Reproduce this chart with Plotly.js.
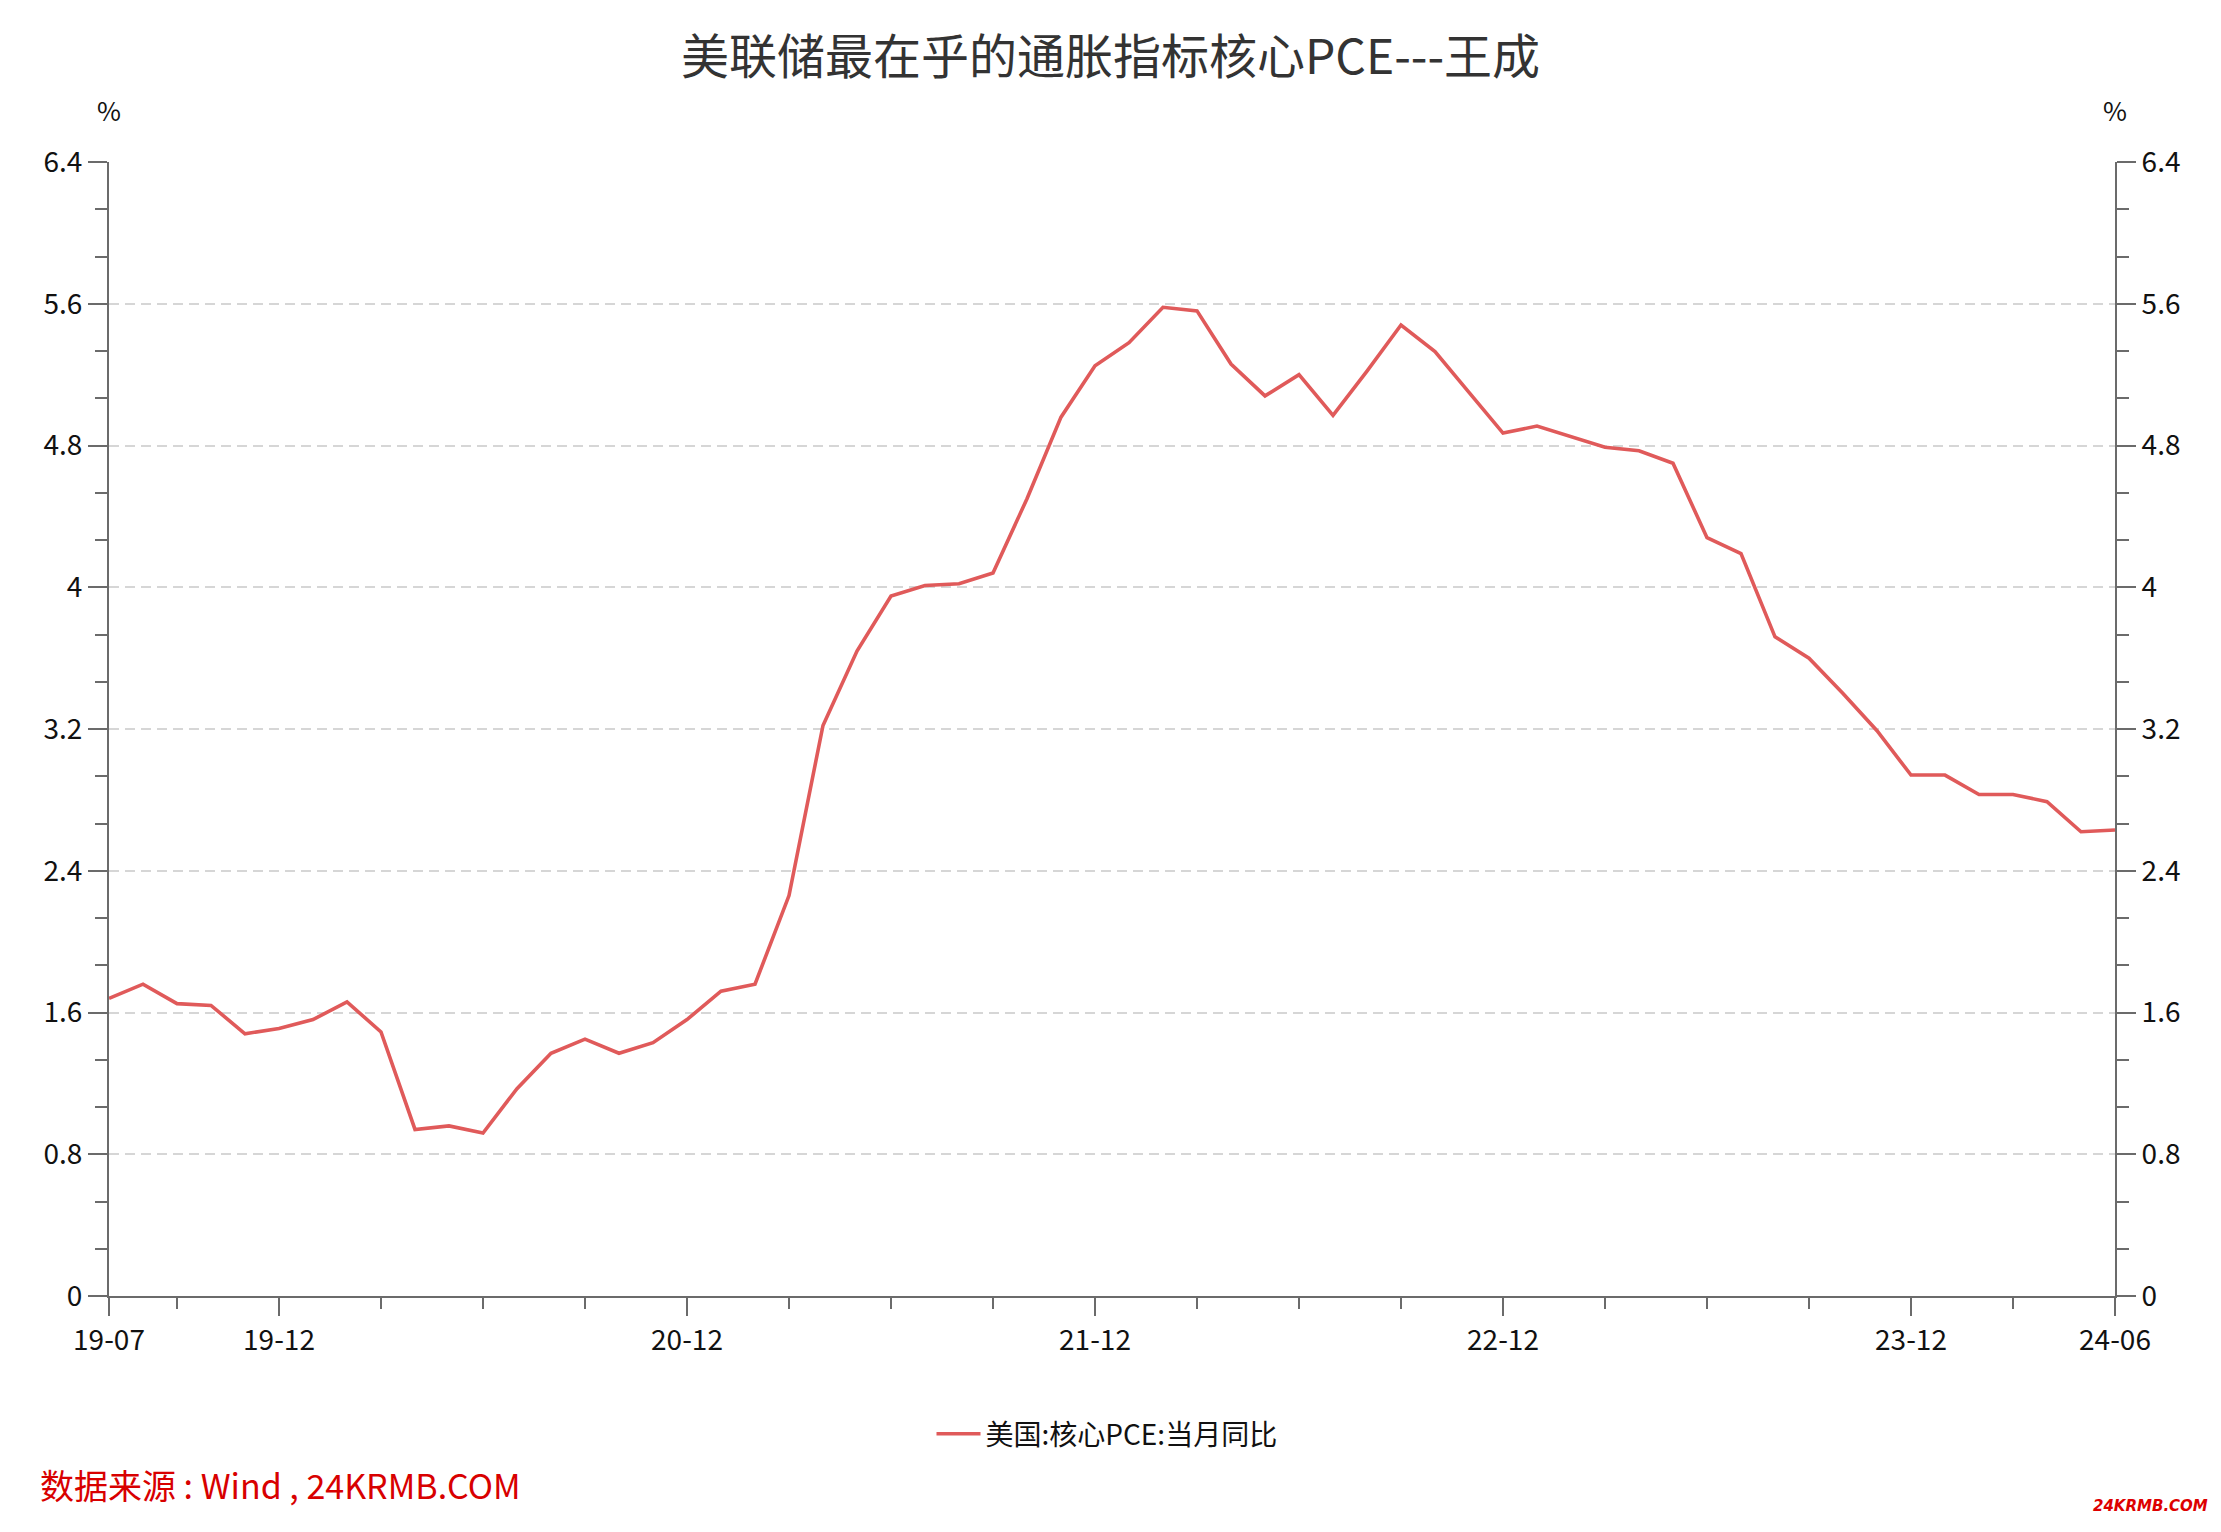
<!DOCTYPE html>
<html>
<head>
<meta charset="utf-8">
<script src="https://cdn.plot.ly/plotly-3.0.1.min.js"></script>
<style>
html,body{margin:0;padding:0;background:#fff;}
#chart{width:2221px;height:1532px;}
</style>
</head>
<body>
<div id="chart"></div>
<script>
// Months (YY-MM)
const months = [
  "19-07","19-08","19-09","19-10","19-11","19-12",
  "20-01","20-02","20-03","20-04","20-05","20-06","20-07","20-08","20-09","20-10","20-11","20-12",
  "21-01","21-02","21-03","21-04","21-05","21-06","21-07","21-08","21-09","21-10","21-11","21-12",
  "22-01","22-02","22-03","22-04","22-05","22-06","22-07","22-08","22-09","22-10","22-11","22-12",
  "23-01","23-02","23-03","23-04","23-05","23-06","23-07","23-08","23-09","23-10","23-11","23-12",
  "24-01","24-02","24-03","24-04","24-05","24-06"
];
// 美国:核心PCE:当月同比 (%)
const corePCE = [
  1.68,1.76,1.65,1.64,1.48,1.51,
  1.56,1.66,1.49,0.94,0.96,0.92,1.17,1.37,1.45,1.37,1.43,1.56,
  1.72,1.76,2.26,3.22,3.64,3.95,4.01,4.02,4.08,4.50,4.96,5.25,
  5.38,5.58,5.56,5.26,5.08,5.20,4.97,5.22,5.48,5.33,5.10,4.87,
  4.91,4.85,4.79,4.77,4.70,4.28,4.19,3.72,3.60,3.40,3.19,2.94,
  2.94,2.83,2.83,2.79,2.62,2.63
];
const majorTickLabels = ["19-07","19-12","20-12","21-12","22-12","23-12","24-06"];
const minorTickLabels = ["19-09","20-03","20-06","20-09","21-03","21-06","21-09",
  "22-03","22-06","22-09","23-03","23-06","23-09","24-03"];
const seriesName = "美国:核心PCE:当月同比";
const titleText = "美联储最在乎的通胀指标核心PCE---王成";
const sourceText = "数据来源 : Wind , 24KRMB.COM";
const watermarkText = "24KRMB.COM";

const xIdx = months.map((m, i) => i);
const majorVals = majorTickLabels.map(m => months.indexOf(m));
const minorVals = minorTickLabels.map(m => months.indexOf(m));

const FONT = "'Microsoft YaHei','Noto Sans CJK SC','Noto Sans',sans-serif";
const AXC = "#6b6b6b";

const W = 2221, H = 1532;
const L = 109, R = 106, T = 162, B = 236;
const plotH = H - T - B, plotW = W - L - R;
const py = (pix) => (H - B - pix) / plotH;
const px = (pix) => (pix - L) / plotW;

const trace = {
  x: xIdx,
  y: corePCE,
  type: "scatter",
  mode: "lines",
  name: seriesName,
  line: {color: "#e05a5a", width: 3.6},
  hoverinfo: "skip"
};
// same series bound to the right-hand axis (invisible) so the mirrored axis is drawn
const traceRight = {
  x: xIdx,
  y: corePCE,
  type: "scatter",
  mode: "lines",
  yaxis: "y2",
  showlegend: false,
  line: {color: "rgba(0,0,0,0)", width: 0},
  hoverinfo: "skip"
};

const yCommon = {
  range: [0, 6.4],
  tick0: 0,
  dtick: 0.8,
  ticks: "outside",
  ticklen: 19,
  tickwidth: 2,
  tickcolor: AXC,
  showline: true,
  linecolor: AXC,
  linewidth: 2,
  zeroline: false,
  tickfont: {family: FONT, size: 28, color: "#111"},
  minor: {dtick: 0.8/3, tick0: 0, ticks: "outside", ticklen: 12, tickwidth: 2, tickcolor: AXC, showgrid: false},
  fixedrange: true
};

const layout = {
  width: W, height: H,
  margin: {l: L, r: R, t: T, b: B, pad: 0},
  paper_bgcolor: "#fff",
  plot_bgcolor: "#fff",
  font: {family: FONT, color: "#222"},
  title: {
    text: titleText,
    font: {family: FONT, size: 48, color: "#333"},
    x: 0.5, xanchor: "center",
    y: 1 - 57 / H, yref: "container", yanchor: "middle"
  },
  showlegend: true,
  legend: {
    orientation: "h",
    x: px(1107), xanchor: "center",
    y: py(1434), yanchor: "middle",
    font: {family: FONT, size: 28, color: "#111"},
    bgcolor: "rgba(0,0,0,0)",
    itemwidth: 44
  },
  xaxis: {
    type: "linear",
    range: [0, months.length - 1],
    tickmode: "array",
    tickvals: majorVals,
    ticktext: majorTickLabels,
    ticks: "outside",
    ticklen: 18,
    tickwidth: 2,
    tickcolor: AXC,
    showline: true,
    linecolor: AXC,
    linewidth: 2,
    showgrid: false,
    zeroline: false,
    tickfont: {family: FONT, size: 28, color: "#111"},
    minor: {tickmode: "array", tickvals: minorVals, ticks: "outside", ticklen: 11, tickwidth: 2, tickcolor: AXC, showgrid: false},
    fixedrange: true
  },
  yaxis: Object.assign({}, yCommon, {
    side: "left",
    showgrid: true,
    gridcolor: "#d6d6d6",
    gridwidth: 2,
    griddash: "10px,6px"
  }),
  yaxis2: Object.assign({}, yCommon, {
    side: "right",
    overlaying: "y",
    showgrid: false
  }),
  annotations: [
    {text: "%", xref: "paper", yref: "paper", x: 0, y: py(110), xanchor: "center", yanchor: "middle",
     showarrow: false, font: {family: FONT, size: 26, color: "#111"}},
    {text: "%", xref: "paper", yref: "paper", x: 1, y: py(110), xanchor: "center", yanchor: "middle",
     showarrow: false, font: {family: FONT, size: 26, color: "#111"}},
    {text: sourceText, xref: "paper", yref: "paper", x: px(38), y: py(1484), xanchor: "left", yanchor: "middle",
     showarrow: false, font: {family: FONT, size: 34, color: "#d80000"}},
    {text: "<b><i>" + watermarkText + "</i></b>", xref: "paper", yref: "paper", x: px(2210), y: py(1506), xanchor: "right", yanchor: "middle",
     showarrow: false, font: {family: "'DejaVu Sans',sans-serif", size: 15, color: "#dd0000"}}
  ]
};

Plotly.newPlot("chart", [trace, traceRight], layout, {displayModeBar: false, staticPlot: true});
</script>
</body>
</html>
